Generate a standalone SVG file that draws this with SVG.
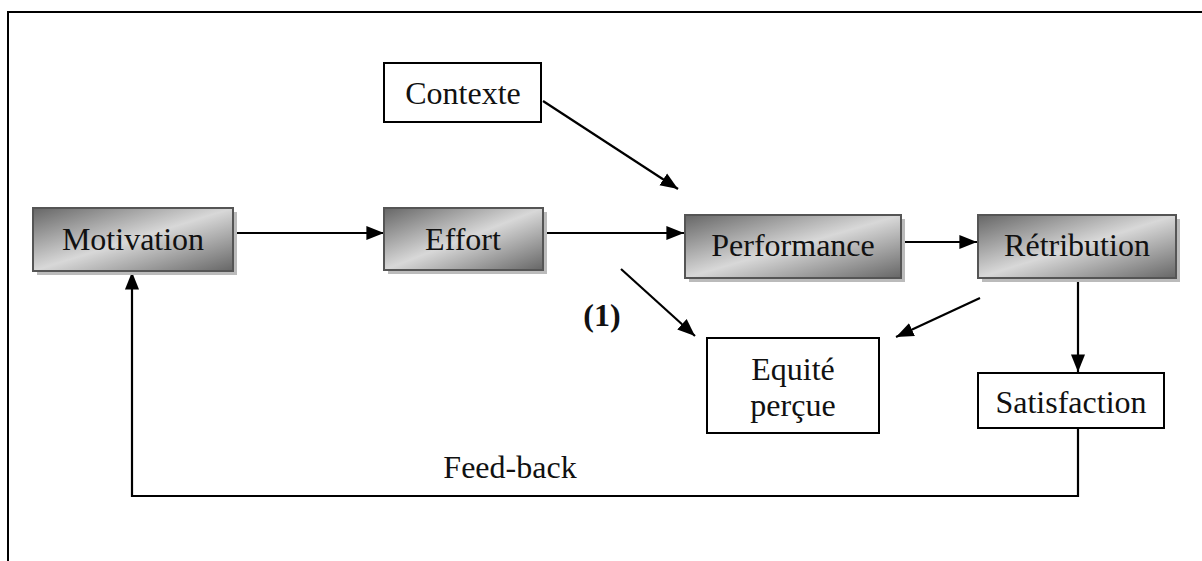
<svg xmlns="http://www.w3.org/2000/svg" width="1202" height="561" viewBox="0 0 1202 561">
<defs>
<linearGradient id="g" x1="0" y1="0" x2="1" y2="1">
<stop offset="0" stop-color="#666"/>
<stop offset="0.5" stop-color="#d8d8d8"/>
<stop offset="1" stop-color="#666"/>
</linearGradient>
<marker id="a" viewBox="0 0 10 10" refX="10" refY="5" markerWidth="8" markerHeight="8" markerUnits="strokeWidth" orient="auto">
<path d="M0,1 L10,5 L0,9 z" fill="#000"/>
</marker>
<style>
.t{font-family:"Liberation Serif","Times New Roman",serif;font-size:32px;fill:#111;text-anchor:middle}
.b{font-weight:bold}
.gb{fill:url(#g);stroke:#555;stroke-width:2}
.sh{fill:#bbb}
.wb{fill:#fff;stroke:#000;stroke-width:2}
.c{stroke:#000;stroke-width:2.2;fill:none}
</style>
</defs>
<rect width="1202" height="561" fill="#fff"/>
<g id="frame"><path d="M8,561 V12 H1202" fill="none" stroke="#000" stroke-width="2"/></g>
<g id="connectors">
<line class="c" x1="233" y1="233" x2="384" y2="233" marker-end="url(#a)"/>
<line class="c" x1="543" y1="233" x2="684" y2="233" marker-end="url(#a)"/>
<line class="c" x1="901" y1="242" x2="977" y2="242" marker-end="url(#a)"/>
<line class="c" x1="543" y1="101" x2="678" y2="189" marker-end="url(#a)"/>
<line class="c" x1="621" y1="269" x2="695" y2="336" marker-end="url(#a)"/>
<line class="c" x1="980" y1="298" x2="896" y2="337" marker-end="url(#a)"/>
<line class="c" x1="1078" y1="278" x2="1078" y2="372" marker-end="url(#a)"/>
<path class="c" d="M1078,428 V496 H132 V272" marker-end="url(#a)"/>
</g>
<g id="contexte"><rect class="wb" x="384" y="63" width="157" height="59"/><text class="t" x="463" y="104">Contexte</text></g>
<g id="motivation"><rect class="sh" x="37" y="212" width="200" height="63"/><rect class="gb" x="33" y="208" width="200" height="63"/><text class="t" x="133" y="250">Motivation</text></g>
<g id="effort"><rect class="sh" x="388" y="212" width="159" height="62"/><rect class="gb" x="384" y="208" width="159" height="62"/><text class="t" x="463" y="250">Effort</text></g>
<g id="performance"><rect class="sh" x="689" y="219" width="216" height="63"/><rect class="gb" x="685" y="215" width="216" height="63"/><text class="t" x="793" y="256">Performance</text></g>
<g id="retribution"><rect class="sh" x="982" y="219" width="198" height="63"/><rect class="gb" x="978" y="215" width="198" height="63"/><text class="t" x="1077" y="256">Rétribution</text></g>
<g id="equite"><rect class="wb" x="707" y="338" width="172" height="95"/><text class="t" x="793" y="380">Equité</text><text class="t" x="793" y="416">perçue</text></g>
<g id="satisfaction"><rect class="wb" x="978" y="373" width="186" height="55"/><text class="t" x="1071" y="413">Satisfaction</text></g>
<g id="labels"><text class="t b" x="602" y="326">(1)</text><text class="t" x="510" y="478">Feed-back</text></g>
</svg>
